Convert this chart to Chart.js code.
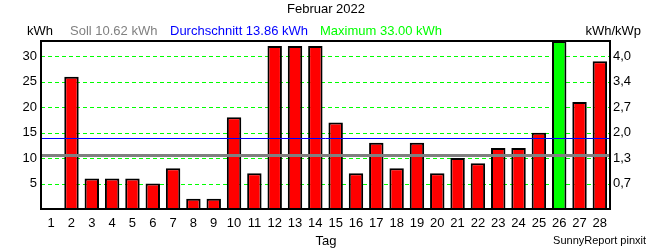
<!DOCTYPE html>
<html>
<head>
<meta charset="utf-8">
<script src="https://cdn.jsdelivr.net/npm/chart.js@4"></script>
<style>
  html, body { margin: 0; padding: 0; background: #fff; }
  #wrap { width: 650px; height: 250px; }
</style>
</head>
<body>
<div id="wrap"><canvas id="chart" width="650" height="250"></canvas></div>
<script>
// data
const days = ["1","2","3","4","5","6","7","8","9","10","11","12","13","14",
              "15","16","17","18","19","20","21","22","23","24","25","26","27","28"];
const dailyKwh = [0, 26, 6, 6, 6, 5, 8, 2, 2, 18, 7, 32, 32, 32,
                  17, 7, 13, 8, 13, 7, 10, 9, 12, 12, 15, 33, 21, 29];
const kwhTicks = [5, 10, 15, 20, 25, 30];
const kwpTicks = ["0,7", "1,3", "2,0", "2,7", "3,4", "4,0"];
const sollKwh = 10.62;
const avgKwh = 13.86;
const maxKwh = 33.00;

const FONT = '"Liberation Sans", Arial, sans-serif';

// **Dashed grid, reference lines, frame and texts**
const decoPlugin = {
    id: "deco",
    beforeDatasetsDraw(chart) {
        let ctx = chart.ctx, area = chart.chartArea, y = chart.scales.y;
        ctx.save();
        ctx.strokeStyle = "#00ff00";
        ctx.lineWidth = 1;
        ctx.setLineDash([4, 3]);
        kwhTicks.forEach((v) => {
            let py = Math.round(y.getPixelForValue(v)) + 0.5;
            ctx.beginPath(); ctx.moveTo(area.left, py); ctx.lineTo(area.right, py); ctx.stroke();
        });
        ctx.restore();
    },
    afterDatasetsDraw(chart) {
        let ctx = chart.ctx, area = chart.chartArea, y = chart.scales.y;
        ctx.save();
        // Soll line (gray, thick)
        ctx.strokeStyle = "#808080";
        ctx.lineWidth = 3;
        let ys = Math.round(y.getPixelForValue(sollKwh)) + 0.5;
        ctx.beginPath(); ctx.moveTo(area.left, ys); ctx.lineTo(area.right, ys); ctx.stroke();
        // Durchschnitt line (blue)
        ctx.strokeStyle = "#0000ff";
        ctx.lineWidth = 1;
        let ya = Math.round(y.getPixelForValue(avgKwh)) + 0.5;
        ctx.beginPath(); ctx.moveTo(area.left, ya); ctx.lineTo(area.right, ya); ctx.stroke();
        // frame
        ctx.strokeStyle = "#000";
        ctx.lineWidth = 2;
        ctx.strokeRect(area.left, area.top, area.right - area.left, area.bottom - area.top);
        ctx.restore();
    },
    afterDraw(chart) {
        let ctx = chart.ctx;
        ctx.save();
        ctx.textBaseline = "middle";
        ctx.font = "13px " + FONT;
        ctx.fillStyle = "#000";
        ctx.textAlign = "center";
        ctx.fillText("Februar 2022", 326, 9);
        ctx.fillText("Tag", 326, 241);
        ctx.textAlign = "left";
        ctx.fillText("kWh", 27, 31);
        ctx.fillStyle = "#808080";
        ctx.fillText("Soll " + sollKwh.toFixed(2) + " kWh", 70, 31);
        ctx.fillStyle = "#0000ff";
        ctx.fillText("Durchschnitt " + avgKwh.toFixed(2) + " kWh", 170, 31);
        ctx.fillStyle = "#00ff00";
        ctx.fillText("Maximum " + maxKwh.toFixed(2) + " kWh", 320, 31);
        ctx.fillStyle = "#000";
        ctx.textAlign = "right";
        ctx.fillText("kWh/kWp", 641, 31);
        ctx.font = "11px " + FONT;
        ctx.fillText("SunnyReport pinxit", 646, 241);
        ctx.restore();
    }
};

let ctx = document.getElementById("chart").getContext("2d");
new Chart(ctx, {
    type: "bar",
    data: {
        labels: days,
        datasets: [{
            data: dailyKwh,
            backgroundColor: dailyKwh.map(v => v === maxKwh ? "#00ff00" : "#ff0000"),
            borderColor: "#000",
            borderWidth: 2,
            barPercentage: 0.71,
            categoryPercentage: 1.0
        }]
    },
    options: {
        responsive: false,
        animation: false,
        layout: { padding: { top: 41, left: 0, right: 0, bottom: 0 } },
        plugins: {
            legend: { display: false },
            title: { display: false },
            tooltip: { enabled: false }
        },
        scales: {
            x: {
                grid: { display: false, drawTicks: false },
                border: { display: false },
                ticks: { color: "#000", font: { family: FONT, size: 13 }, padding: 7, maxRotation: 0, autoSkip: false },
                afterFit: (s) => { s.height = 41; }
            },
            y: {
                position: "left",
                min: 0,
                max: maxKwh,
                afterBuildTicks: (s) => { s.ticks = kwhTicks.map(v => ({ value: v })); },
                grid: { display: false, drawTicks: false },
                border: { display: false },
                ticks: { color: "#000", font: { family: FONT, size: 13 }, padding: 4 },
                afterFit: (s) => { s.width = 41; }
            },
            y2: {
                position: "right",
                min: 0,
                max: maxKwh,
                afterBuildTicks: (s) => { s.ticks = kwhTicks.map(v => ({ value: v })); },
                grid: { display: false, drawTicks: false },
                border: { display: false },
                ticks: {
                    color: "#000", font: { family: FONT, size: 13 }, padding: 3,
                    callback: (v, i) => kwpTicks[i]
                },
                afterFit: (s) => { s.width = 40; }
            }
        }
    },
    plugins: [decoPlugin]
});
</script>
</body>
</html>
